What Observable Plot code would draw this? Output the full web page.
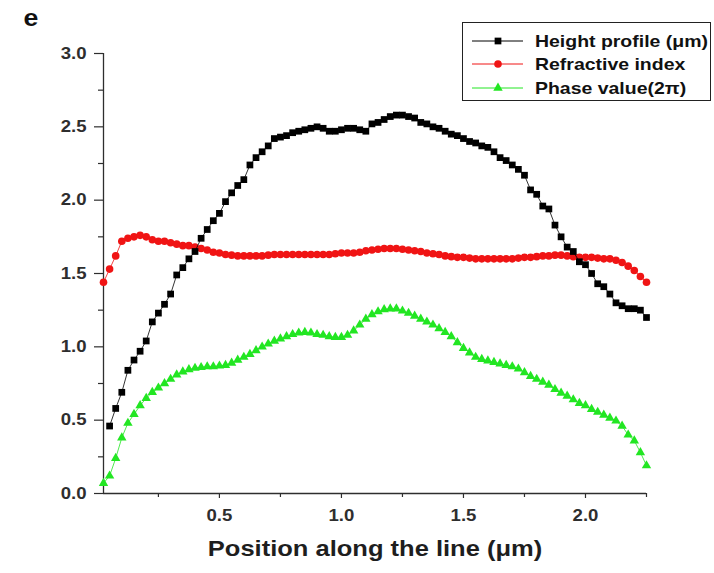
<!DOCTYPE html>
<html>
<head>
<meta charset="utf-8">
<script src="https://cdn.jsdelivr.net/npm/d3@7"></script>
<script src="https://cdn.jsdelivr.net/npm/@observablehq/plot@0.6"></script>
<style>
  html, body { margin: 0; padding: 0; background: #fff; }
  #wrap { position: relative; width: 714px; height: 573px; overflow: hidden; }
  #legend { position: absolute; left: 462px; top: 22px; width: 249px; height: 79px;
            border: 1.3px solid #222; background: #fff; box-sizing: border-box; }
</style>
</head>
<body>
<div id="wrap"></div>
<script>
// Shared positions along the line (µm)
const positions = [
  0.025,0.05,0.075,0.1,0.125,0.15,0.175,0.2,0.225,0.25,
  0.275,0.3,0.325,0.35,0.375,0.4,0.425,0.45,0.475,0.5,
  0.525,0.55,0.575,0.6,0.625,0.65,0.675,0.7,0.725,0.75,
  0.775,0.8,0.825,0.85,0.875,0.9,0.925,0.95,0.975,1.0,
  1.025,1.05,1.075,1.1,1.125,1.15,1.175,1.2,1.225,1.25,
  1.275,1.3,1.325,1.35,1.375,1.4,1.425,1.45,1.475,1.5,
  1.525,1.55,1.575,1.6,1.625,1.65,1.675,1.7,1.725,1.75,
  1.775,1.8,1.825,1.85,1.875,1.9,1.925,1.95,1.975,2.0,
  2.025,2.05,2.075,2.1,2.125,2.15,2.175,2.2,2.225,2.25
];
// Height profile (µm)
const heightProfile = [
  null,0.46,0.58,0.69,0.84,0.91,0.97,1.04,1.17,1.23,
  1.29,1.36,1.49,1.54,1.60,1.65,1.74,1.80,1.86,1.91,
  1.99,2.05,2.10,2.14,2.24,2.29,2.33,2.37,2.42,2.43,
  2.44,2.46,2.47,2.48,2.49,2.50,2.49,2.47,2.47,2.48,
  2.49,2.49,2.48,2.47,2.52,2.53,2.55,2.57,2.58,2.58,
  2.57,2.56,2.53,2.52,2.50,2.49,2.47,2.45,2.44,2.42,
  2.40,2.39,2.37,2.36,2.33,2.29,2.27,2.24,2.21,2.17,
  2.07,2.04,1.96,1.94,1.83,1.75,1.68,1.65,1.58,1.56,
  1.50,1.43,1.41,1.36,1.30,1.28,1.26,1.26,1.25,1.20
];
// Refractive index
const refractiveIndex = [
  1.44,1.53,1.62,1.72,1.74,1.75,1.76,1.75,1.73,1.72,
  1.72,1.71,1.70,1.69,1.69,1.68,1.67,1.66,1.645,1.64,
  1.63,1.625,1.62,1.62,1.62,1.62,1.62,1.625,1.63,1.63,
  1.63,1.63,1.63,1.63,1.63,1.63,1.63,1.63,1.635,1.64,
  1.64,1.64,1.645,1.655,1.66,1.665,1.67,1.67,1.67,1.665,
  1.66,1.655,1.65,1.64,1.635,1.63,1.62,1.615,1.61,1.61,
  1.605,1.60,1.60,1.60,1.60,1.60,1.60,1.60,1.605,1.61,
  1.61,1.615,1.62,1.62,1.625,1.625,1.62,1.615,1.61,1.61,
  1.61,1.605,1.60,1.60,1.59,1.575,1.55,1.52,1.48,1.44
];
// Phase value (2π)
const phaseValue = [
  0.07,0.12,0.24,0.38,0.48,0.54,0.60,0.65,0.69,0.72,
  0.75,0.78,0.81,0.83,0.845,0.855,0.86,0.865,0.865,0.87,
  0.875,0.89,0.91,0.93,0.95,0.975,1.00,1.02,1.04,1.055,
  1.07,1.085,1.095,1.10,1.095,1.085,1.08,1.07,1.065,1.065,
  1.08,1.11,1.15,1.19,1.22,1.24,1.255,1.26,1.26,1.245,
  1.23,1.21,1.19,1.17,1.15,1.125,1.10,1.07,1.03,0.99,
  0.96,0.93,0.915,0.905,0.895,0.885,0.875,0.865,0.85,0.825,
  0.80,0.78,0.76,0.74,0.71,0.685,0.665,0.64,0.615,0.60,
  0.575,0.555,0.535,0.515,0.495,0.46,0.40,0.36,0.28,0.19
];
const seriesNames = ["Height profile (\u03bcm)", "Refractive index", "Phase value(2\u03c0)"];
const seriesColors = ["#000000", "#f01414", "#22e622"];
const xDomain = [0.025, 2.25];
const yDomain = [0, 3];
const xMajor = [0.5, 1.0, 1.5, 2.0];
const xMinor = [0.25, 0.75, 1.25, 1.75, 2.25];
const yMajor = [0, 0.5, 1.0, 1.5, 2.0, 2.5, 3.0];
const yMinor = [0.25, 0.75, 1.25, 1.75, 2.25, 2.75];
const xTitle = "Position along the line (\u03bcm)";
const panelLabel = "e";

const rows = positions.map((x, i) => ({x, h: heightProfile[i], n: refractiveIndex[i], p: phaseValue[i]}));
const hRows = rows.filter(d => d.h != null);

const FONT = "'Liberation Sans', Arial, sans-serif";
const STRETCH = 1.16;
const axisColor = "#2e2e2e";
const chart = Plot.plot({
  width: 714,
  height: 573,
  marginLeft: 103,
  marginRight: 68,
  marginTop: 53,
  marginBottom: 80,
  x: {domain: xDomain},
  y: {domain: yDomain},
  style: {fontFamily: FONT, fontSize: "16px", fontWeight: "bold", color: axisColor, background: "#fff", overflow: "visible"},
  marks: [
    Plot.axisY({ticks: yMajor, tickSize: 9, tickPadding: 8, tickFormat: d3.format(".1f"), label: null, strokeWidth: 1.2}),
    Plot.axisY({ticks: yMinor, tickSize: 5, tickFormat: () => "", label: null, strokeWidth: 1.2}),
    Plot.axisX({ticks: xMajor, tickSize: 5, tickPadding: 11, tickFormat: d3.format(".1f"), label: null, strokeWidth: 1.2}),
    Plot.axisX({ticks: xMinor, tickSize: 4, tickFormat: () => "", label: null, strokeWidth: 1.2}),
    Plot.ruleX([xDomain[0]], {y1: yDomain[0], y2: yDomain[1], stroke: axisColor, strokeWidth: 1.3}),
    Plot.ruleY([yDomain[0]], {x1: xDomain[0], x2: xDomain[1], stroke: axisColor, strokeWidth: 1.3}),
    // Phase (green)
    Plot.line(rows, {x: "x", y: "p", stroke: seriesColors[2], strokeWidth: 0.8}),
    Plot.dot(rows, {x: "x", y: "p", symbol: "triangle", r: 3.5, fill: seriesColors[2], stroke: "none"}),
    // Refractive index (red)
    Plot.line(rows, {x: "x", y: "n", stroke: seriesColors[1], strokeWidth: 0.8}),
    Plot.dot(rows, {x: "x", y: "n", symbol: "circle", r: 3.8, fill: seriesColors[1], stroke: "none"}),
    // Height (black)
    Plot.line(hRows, {x: "x", y: "h", stroke: seriesColors[0], strokeWidth: 0.8}),
    Plot.dot(hRows, {x: "x", y: "h", symbol: "square", r: 3.8, fill: seriesColors[0], stroke: "none"}),
    // Axis title and panel label
    Plot.text([xTitle], {frameAnchor: "bottom", dy: 55, fontSize: 22, fontWeight: "bold", fill: "#1e1e1e", lineAnchor: "middle"}),
    Plot.text([panelLabel], {frameAnchor: "top-left", dx: -80, dy: -35, fontSize: 23, fontWeight: "bold", fill: "#111", textAnchor: "start", lineAnchor: "middle"})
  ]
});

// widen the glyphs horizontally, like the reference lettering
function stretchText(root, s) {
  root.querySelectorAll("text").forEach(t => {
    const x = +t.getAttribute("x") || 0, y = +t.getAttribute("y") || 0;
    const tr = t.getAttribute("transform") || "";
    t.setAttribute("transform", `${tr} translate(${x},${y}) scale(${s},1) translate(${-x},${-y})`);
  });
}
stretchText(chart, STRETCH);

const wrap = document.getElementById("wrap");
wrap.appendChild(chart);

// Legend (overlaid at top right)
const legend = document.createElement("div");
legend.id = "legend";
const ns = "http://www.w3.org/2000/svg";
const lsvg = document.createElementNS(ns, "svg");
lsvg.setAttribute("width", "249");
lsvg.setAttribute("height", "79");
lsvg.style.position = "absolute";
lsvg.style.left = "-1px";
lsvg.style.top = "-1px";
const symbols = [d3.symbolSquare, d3.symbolCircle, d3.symbolTriangle];
const symSizes = [Math.PI * 3.8 * 3.8, Math.PI * 3.8 * 3.8, Math.PI * 3.5 * 3.5];
const rowY = [19, 42, 66];
seriesNames.forEach((name, i) => {
  const g = document.createElementNS(ns, "g");
  const ln = document.createElementNS(ns, "line");
  ln.setAttribute("x1", 10); ln.setAttribute("x2", 61);
  ln.setAttribute("y1", rowY[i]); ln.setAttribute("y2", rowY[i]);
  ln.setAttribute("stroke", seriesColors[i]); ln.setAttribute("stroke-width", 1);
  g.appendChild(ln);
  const p = document.createElementNS(ns, "path");
  p.setAttribute("d", d3.symbol(symbols[i], symSizes[i])());
  p.setAttribute("transform", `translate(36,${rowY[i]})`);
  p.setAttribute("fill", seriesColors[i]);
  g.appendChild(p);
  const t = document.createElementNS(ns, "text");
  t.setAttribute("x", 73); t.setAttribute("y", rowY[i]);
  t.setAttribute("dy", "0.36em");
  t.setAttribute("font-family", FONT);
  t.setAttribute("font-size", "16.5");
  t.setAttribute("font-weight", "bold");
  t.setAttribute("fill", "#111");
  t.textContent = name;
  g.appendChild(t);
  lsvg.appendChild(g);
});
stretchText(lsvg, 1.18);
legend.appendChild(lsvg);
wrap.appendChild(legend);
</script>
</body>
</html>
